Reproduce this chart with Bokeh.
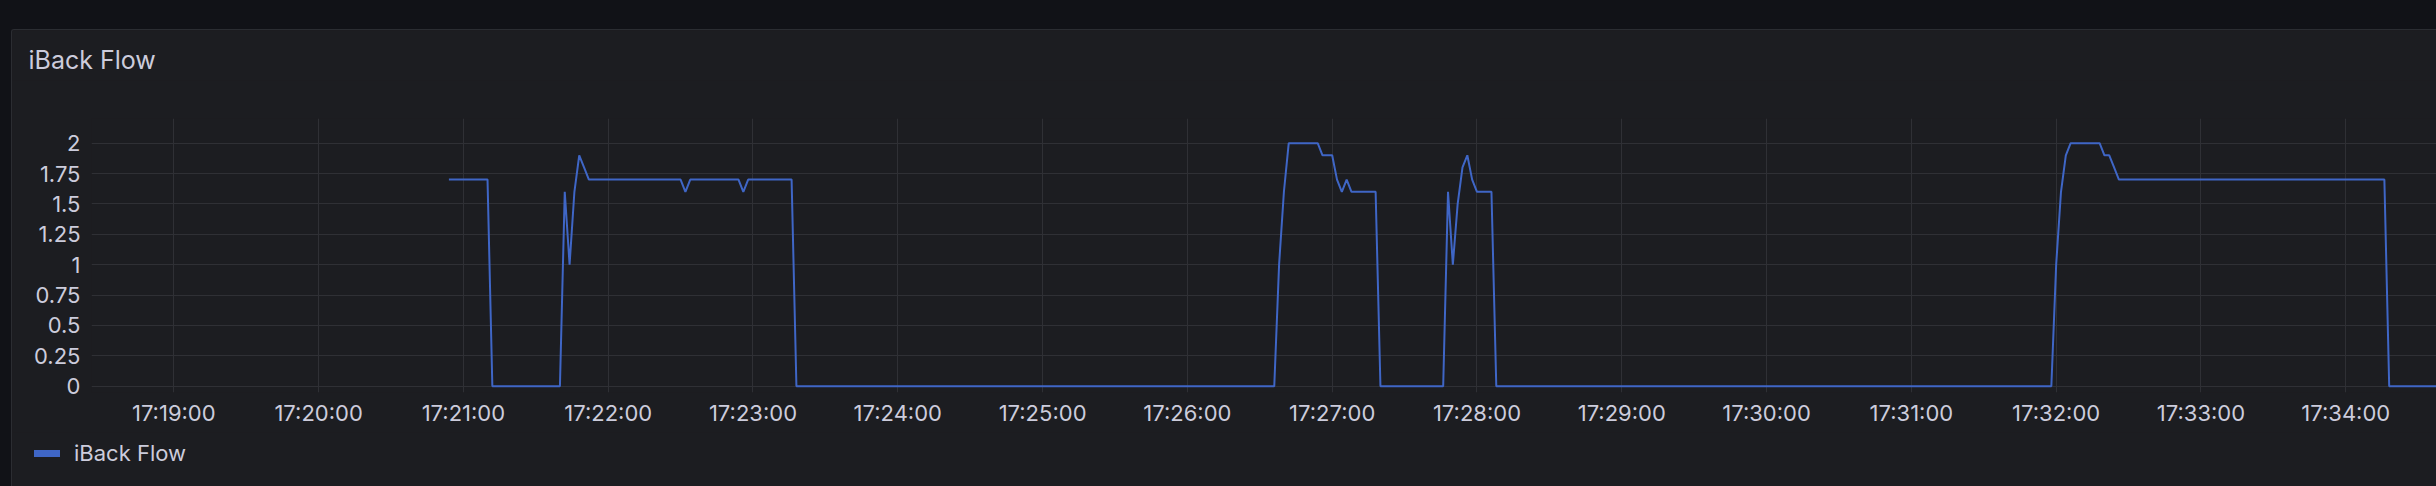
import pandas as pd
from bokeh.plotting import figure
from bokeh.layouts import column
from bokeh.models import (Range1d, FixedTicker, DatetimeTickFormatter, Legend,
                          LegendItem, ColumnDataSource, Label)
from bokeh.embed import file_html
from bokeh.resources import INLINE

DAY = "2024-01-01 "

# iBack Flow samples (time, value)
times = [
    "17:20:54", "17:21:10", "17:21:12", "17:21:40", "17:21:42", "17:21:44",
    "17:21:46", "17:21:48", "17:21:50", "17:21:52", "17:22:30", "17:22:32",
    "17:22:34", "17:22:54", "17:22:56", "17:22:58", "17:23:16", "17:23:18",
    "17:26:36", "17:26:38", "17:26:40", "17:26:42", "17:26:54", "17:26:56",
    "17:27:00", "17:27:02", "17:27:04", "17:27:06", "17:27:08", "17:27:18",
    "17:27:20", "17:27:46", "17:27:48", "17:27:50", "17:27:52", "17:27:54",
    "17:27:56", "17:27:58", "17:28:00", "17:28:06", "17:28:08", "17:31:58",
    "17:32:00", "17:32:02", "17:32:04", "17:32:06", "17:32:18", "17:32:20",
    "17:32:22", "17:32:24", "17:32:26", "17:34:16", "17:34:18", "17:34:40",
]
flow = [
    1.7, 1.7, 0, 0, 1.6, 1.0,
    1.6, 1.9, 1.8, 1.7, 1.7, 1.6,
    1.7, 1.7, 1.6, 1.7, 1.7, 0,
    0, 1.0, 1.6, 2.0, 2.0, 1.9,
    1.9, 1.7, 1.6, 1.7, 1.6, 1.6,
    0, 0, 1.6, 1.0, 1.5, 1.8,
    1.9, 1.7, 1.6, 1.6, 0, 0,
    1.0, 1.6, 1.9, 2.0, 2.0, 1.9,
    1.9, 1.8, 1.7, 1.7, 0, 0,
]

x_tick_labels = ["17:19:00", "17:20:00", "17:21:00", "17:22:00", "17:23:00",
                 "17:24:00", "17:25:00", "17:26:00", "17:27:00", "17:28:00",
                 "17:29:00", "17:30:00", "17:31:00", "17:32:00", "17:33:00",
                 "17:34:00"]
y_ticks = [0, 0.25, 0.5, 0.75, 1, 1.25, 1.5, 1.75, 2]
y_tick_labels = ["0", "0.25", "0.5", "0.75", "1", "1.25", "1.5", "1.75", "2"]
view_start, view_end = "17:18:25.9", "17:34:37.6"
y_start, y_end = -0.052, 2.203

series_name = "iBack Flow"
title_text = "iBack Flow"

TEXT = "#ccccdc"
PANEL = "#1c1d21"
GRID = "#2f3035"
LINE = "#3f66c6"
FONT = "Inter"
W = 2424


def ts(s):
    return pd.Timestamp(DAY + s)


def ms(s):
    return ts(s).value / 1e6


def strip(h):
    f = figure(width=W, height=h, output_backend="svg", toolbar_location=None,
               x_range=Range1d(0, 1), y_range=Range1d(0, 1),
               x_axis_location=None, y_axis_location=None,
               min_border=0, background_fill_color=PANEL, border_fill_color=PANEL,
               outline_line_color=None)
    f.grid.visible = False
    f.frame_align = False
    return f


# title strip
tf = strip(50)
tf.add_layout(Label(x=16, y=21, x_units="screen", y_units="screen",
                    text=title_text, text_font=FONT, text_font_size="25px",
                    text_color=TEXT, text_baseline="middle", text_align="left"))

# chart
src = ColumnDataSource(data=dict(t=[ts(s) for s in times], v=flow))

p = figure(width=W, height=352, output_backend="svg", toolbar_location=None,
           x_axis_type="datetime",
           x_range=Range1d(ts(view_start), ts(view_end)),
           y_range=Range1d(y_start, y_end),
           min_border_left=79, min_border_top=38, min_border_right=0,
           min_border_bottom=40,
           background_fill_color=PANEL, border_fill_color=PANEL,
           outline_line_color=None)
p.frame_align = False

p.line("t", "v", source=src, line_color=LINE, line_width=2)

for ax in (p.xaxis[0], p.yaxis[0]):
    ax.axis_line_color = None
    ax.major_tick_line_color = None
    ax.minor_tick_line_color = None
    ax.major_tick_out = 0
    ax.major_tick_in = 0
    ax.major_label_text_font = FONT
    ax.major_label_text_font_size = "22px"
    ax.major_label_text_color = TEXT

p.xaxis.ticker = FixedTicker(ticks=[ms(s) for s in x_tick_labels])
fmt = "%H:%M:%S"
p.xaxis.formatter = DatetimeTickFormatter(seconds=fmt, minsec=fmt, minutes=fmt,
                                          hourmin=fmt, hours=fmt, milliseconds=fmt)
p.xaxis.major_label_standoff = 7
p.yaxis.ticker = FixedTicker(ticks=y_ticks)
p.yaxis.major_label_overrides = {t: l for t, l in zip(y_ticks, y_tick_labels)}
p.yaxis.major_label_standoff = 11

p.xgrid.grid_line_color = GRID
p.ygrid.grid_line_color = GRID

# legend strip below the chart
lf = strip(54)
swatch = lf.line(x=[0, 1], y=[-5, -5], line_color=LINE, line_width=7,
                 line_cap="round")
legend = Legend(items=[LegendItem(label=series_name, renderers=[swatch])],
                location=(22, 20), orientation="horizontal",
                glyph_width=26, glyph_height=22, label_standoff=14,
                padding=0, margin=0, spacing=0,
                background_fill_alpha=0, border_line_alpha=0,
                label_text_font=FONT, label_text_font_size="22px",
                label_text_color=TEXT)
lf.add_layout(legend, "center")

page = column(tf, p, lf, spacing=0)
page.margin = (29, 0, 0, 11)
page.styles = {"border-top": "1px solid #2b2d32", "border-left": "1px solid #2b2d32",
               "border-top-left-radius": "3px", "background-color": PANEL}

html = file_html(page, INLINE)
html = html.replace("<head>",
                    "<head><style>html,body{background:#111217;margin:0;}</style>", 1)
open("out.html", "w").write(html)
